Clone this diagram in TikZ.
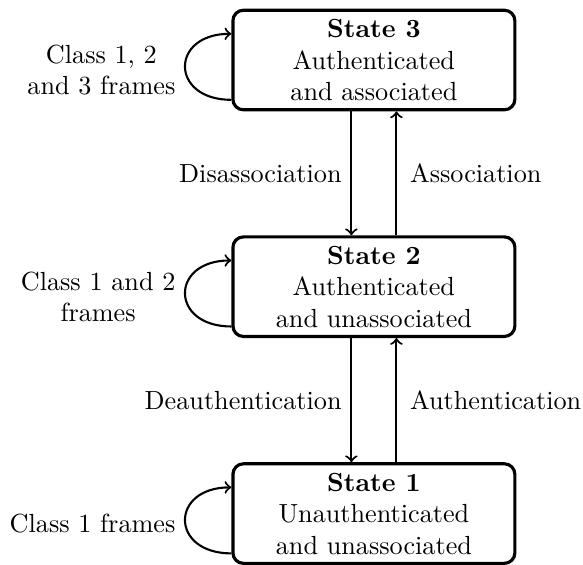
\documentclass[tikz,border=0pt]{standalone}
\usetikzlibrary{calc}
\tikzset{
  statebox/.style={draw, line width=1.2pt, rounded corners=4pt, minimum width=107.6pt, minimum height=38pt, align=center, inner sep=2pt},
  conn/.style={->, line width=0.8pt},
  looplabel/.style={left, align=center, yshift=-1.3pt}
}
\begin{document}
\begin{tikzpicture}
\useasboundingbox (0,0) rectangle (222.5pt,-215.3pt);
\node[statebox] (s3) at (142.7pt,-22.9pt) {\textbf{State 3}\\Authenticated\\and associated};
\node[statebox] (s2) at (142.7pt,-109.4pt) {\textbf{State 2}\\Authenticated\\and unassociated};
\node[statebox] (s1) at (142.7pt,-196.0pt) {\textbf{State 1}\\Unauthenticated\\and unassociated};

\draw[conn] ([xshift=-8.6pt]s3.south) -- ([xshift=-8.6pt]s2.north) node[midway,left] {Disassociation};
\draw[conn] ([xshift=8.6pt]s2.north) -- ([xshift=8.6pt]s3.south) node[midway,right,xshift=1.5pt] {Association};
\draw[conn] ([xshift=-8.6pt]s2.south) -- ([xshift=-8.6pt]s1.north) node[midway,left] {Deauthentication};
\draw[conn] ([xshift=8.6pt]s1.north) -- ([xshift=8.6pt]s2.south) node[midway,right,xshift=1.5pt] {Authentication};

\draw[conn] ([yshift=-15.2pt]s3.west) .. controls +(-23.5pt,0) and +(-23.5pt,0) .. ([yshift=10pt]s3.west) node[midway,looplabel] {Class 1, 2\\and 3 frames};
\draw[conn] ([yshift=-15.2pt]s2.west) .. controls +(-23.5pt,0) and +(-23.5pt,0) .. ([yshift=10pt]s2.west) node[midway,looplabel] {Class 1 and 2\\frames};
\draw[conn] ([yshift=-15.2pt]s1.west) .. controls +(-23.5pt,0) and +(-23.5pt,0) .. ([yshift=10pt]s1.west) node[midway,looplabel] {Class 1 frames};
\end{tikzpicture}
\end{document}
